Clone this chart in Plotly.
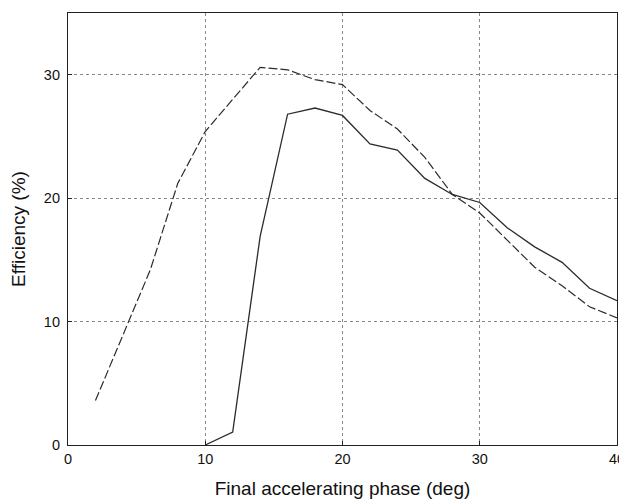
import plotly.graph_objects as go

phase_dashed = [2, 4, 6, 8, 10, 12, 14, 16, 18, 20, 22, 24, 26, 28, 30, 32, 34, 36, 38, 40]
eff_dashed = [3.6, 8.9, 14.2, 21.2, 25.4, 28.0, 30.6, 30.4, 29.6, 29.2, 27.1, 25.6, 23.3, 20.3, 18.8, 16.6, 14.4, 12.9, 11.2, 10.3]

phase_solid = [10, 12, 14, 16, 18, 20, 22, 24, 26, 28, 30, 32, 34, 36, 38, 40]
eff_solid = [0.0, 1.05, 16.9, 26.8, 27.3, 26.7, 24.4, 23.9, 21.6, 20.3, 19.65, 17.6, 16.05, 14.8, 12.7, 11.7]

x_ticks = [0, 10, 20, 30, 40]
y_ticks = [0, 10, 20, 30]

line_color = "#2b2b2b"
font_family = "Liberation Sans, Arial, sans-serif"

fig = go.Figure()
fig.add_trace(go.Scatter(x=phase_dashed, y=eff_dashed, mode="lines",
                         line=dict(color=line_color, width=1.2, dash="9px,3px"),
                         showlegend=False, hoverinfo="skip"))
fig.add_trace(go.Scatter(x=phase_solid, y=eff_solid, mode="lines",
                         line=dict(color=line_color, width=1.3),
                         showlegend=False, hoverinfo="skip"))

axis_common = dict(
    showline=True, linecolor="#222", linewidth=1.2, mirror=True,
    showgrid=True, gridcolor="#888", griddash="dot", gridwidth=1,
    zeroline=False, ticks="inside", ticklen=4, tickcolor="#222",
    tickfont=dict(family=font_family, size=14.5, color="#111"),
)

fig.update_xaxes(range=[0, 40], tickvals=x_ticks,
                 title=dict(text="Final accelerating phase (deg)",
                            font=dict(family=font_family, size=19, color="#111"),
                            standoff=16),
                 **axis_common)
fig.update_yaxes(range=[0, 35], tickvals=y_ticks, ticklabelstandoff=4,
                 title=dict(text="Efficiency (%)",
                            font=dict(family=font_family, size=19, color="#111"),
                            standoff=14),
                 **axis_common)

fig.update_layout(
    width=627, height=499,
    margin=dict(l=60, r=18, t=5, b=62, autoexpand=False),
    paper_bgcolor="white", plot_bgcolor="white",
)

fig.write_html("out.html")
